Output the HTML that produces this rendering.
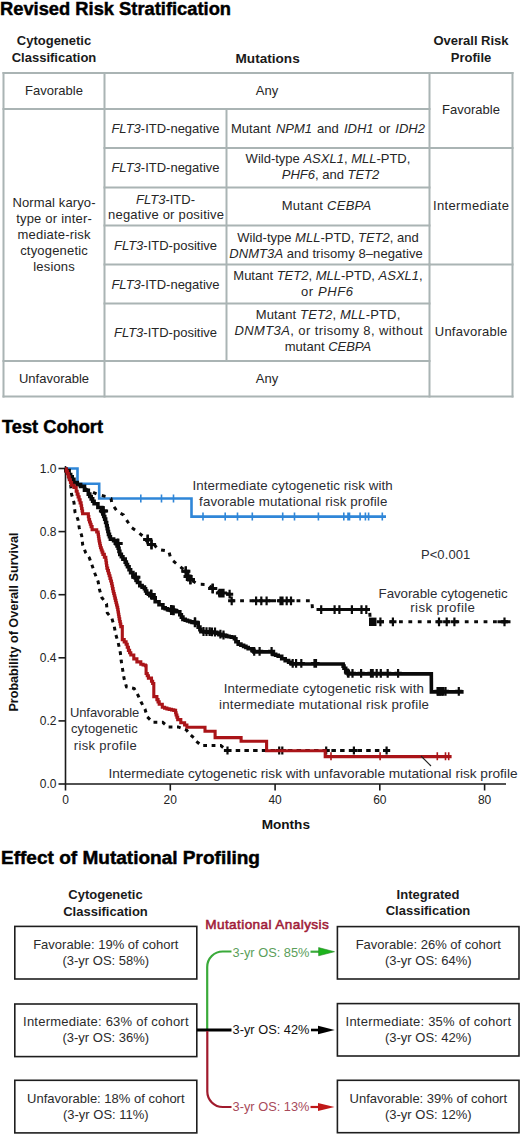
<!DOCTYPE html>
<html><head><meta charset="utf-8"><title>Revised Risk Stratification</title>
<style>
html,body{margin:0;padding:0;background:#fff;}
body{width:520px;height:1134px;overflow:hidden;position:relative;font-family:"Liberation Sans", sans-serif;}
svg{position:absolute;left:0;top:0;display:block;}
text{font-family:"Liberation Sans", sans-serif;}
</style></head>
<body>
<svg width="520" height="1134" viewBox="0 0 520 1134">
<text x="0" y="15" font-size="18" font-weight="bold" fill="#000" stroke="#000" stroke-width="0.45" textLength="231" lengthAdjust="spacingAndGlyphs">Revised Risk Stratification</text>
<text x="54" y="45.3" font-size="13" text-anchor="middle" font-weight="bold" fill="#1a1a1a" >Cytogenetic</text>
<text x="54" y="62.3" font-size="13" text-anchor="middle" font-weight="bold" fill="#1a1a1a" >Classification</text>
<text x="267.6" y="62.8" font-size="13.6" text-anchor="middle" font-weight="bold" fill="#1a1a1a" >Mutations</text>
<text x="471" y="44.9" font-size="13" text-anchor="middle" font-weight="bold" fill="#1a1a1a" >Overall Risk</text>
<text x="471" y="62.2" font-size="13" text-anchor="middle" font-weight="bold" fill="#1a1a1a" >Profile</text>
<line x1="2.5" y1="73" x2="513.5" y2="73" stroke="#aab4b4" stroke-width="2"/>
<line x1="2.5" y1="396.5" x2="513.5" y2="396.5" stroke="#aab4b4" stroke-width="2"/>
<line x1="3.5" y1="72" x2="3.5" y2="397.5" stroke="#aab4b4" stroke-width="2"/>
<line x1="512.5" y1="72" x2="512.5" y2="397.5" stroke="#aab4b4" stroke-width="2"/>
<line x1="104.5" y1="72" x2="104.5" y2="397.5" stroke="#aab4b4" stroke-width="2"/>
<line x1="429.5" y1="72" x2="429.5" y2="397.5" stroke="#aab4b4" stroke-width="2"/>
<line x1="226.5" y1="108" x2="226.5" y2="362" stroke="#aab4b4" stroke-width="2"/>
<line x1="2.5" y1="109" x2="430.5" y2="109" stroke="#aab4b4" stroke-width="2"/>
<line x1="103.5" y1="148" x2="430.5" y2="148" stroke="#aab4b4" stroke-width="2"/>
<line x1="103.5" y1="187.5" x2="430.5" y2="187.5" stroke="#aab4b4" stroke-width="2"/>
<line x1="103.5" y1="225.5" x2="430.5" y2="225.5" stroke="#aab4b4" stroke-width="2"/>
<line x1="103.5" y1="264.5" x2="430.5" y2="264.5" stroke="#aab4b4" stroke-width="2"/>
<line x1="103.5" y1="303.5" x2="430.5" y2="303.5" stroke="#aab4b4" stroke-width="2"/>
<line x1="2.5" y1="361" x2="430.5" y2="361" stroke="#aab4b4" stroke-width="2"/>
<line x1="428.5" y1="148" x2="513.5" y2="148" stroke="#aab4b4" stroke-width="2"/>
<line x1="428.5" y1="264.5" x2="513.5" y2="264.5" stroke="#aab4b4" stroke-width="2"/>
<text x="54.0" y="94.5" font-size="13" text-anchor="middle" font-weight="normal" fill="#262626" >Favorable</text>
<text x="267.0" y="94.8" font-size="13" text-anchor="middle" font-weight="normal" fill="#262626" >Any</text>
<text x="471.0" y="114.0" font-size="13" text-anchor="middle" font-weight="normal" fill="#262626" >Favorable</text>
<text x="165.5" y="133" font-size="13" text-anchor="middle" font-weight="normal" fill="#262626" ><tspan font-style="italic">FLT3</tspan>-ITD-negative</text>
<text x="328.0" y="133" font-size="13" text-anchor="middle" font-weight="normal" fill="#262626" word-spacing="1.5">Mutant <tspan font-style="italic">NPM1</tspan> and <tspan font-style="italic">IDH1</tspan> or <tspan font-style="italic">IDH2</tspan></text>
<text x="165.5" y="172" font-size="13" text-anchor="middle" font-weight="normal" fill="#262626" ><tspan font-style="italic">FLT3</tspan>-ITD-negative</text>
<text x="328.0" y="163.2" font-size="13" text-anchor="middle" font-weight="normal" fill="#262626" >Wild-type <tspan font-style="italic">ASXL1</tspan>, <tspan font-style="italic">MLL</tspan>-PTD,</text>
<text x="330.5" y="179.2" font-size="13" text-anchor="middle" font-weight="normal" fill="#262626" ><tspan font-style="italic">PHF6</tspan>, and <tspan font-style="italic">TET2</tspan></text>
<text x="471.0" y="210.4" font-size="13" text-anchor="middle" font-weight="normal" fill="#262626" textLength="76" lengthAdjust="spacing">Intermediate</text>
<text x="165.5" y="203.6" font-size="13" text-anchor="middle" font-weight="normal" fill="#262626" ><tspan font-style="italic">FLT3</tspan>-ITD-</text>
<text x="166.0" y="218.8" font-size="13" text-anchor="middle" font-weight="normal" fill="#262626" textLength="116" lengthAdjust="spacing">negative or positive</text>
<text x="326.5" y="209.8" font-size="13" text-anchor="middle" font-weight="normal" fill="#262626" textLength="89.5" lengthAdjust="spacing">Mutant <tspan font-style="italic">CEBPA</tspan></text>
<text x="165.5" y="249.5" font-size="13" text-anchor="middle" font-weight="normal" fill="#262626" ><tspan font-style="italic">FLT3</tspan>-ITD-positive</text>
<text x="328.0" y="242.2" font-size="13" text-anchor="middle" font-weight="normal" fill="#262626" >Wild-type <tspan font-style="italic">MLL</tspan>-PTD, <tspan font-style="italic">TET2</tspan>, and</text>
<text x="326.0" y="258" font-size="13" text-anchor="middle" font-weight="normal" fill="#262626" textLength="193.5" lengthAdjust="spacing"><tspan font-style="italic">DNMT3A</tspan> and trisomy 8&#8211;negative</text>
<text x="165.5" y="288.5" font-size="13" text-anchor="middle" font-weight="normal" fill="#262626" ><tspan font-style="italic">FLT3</tspan>-ITD-negative</text>
<text x="328.0" y="280.2" font-size="13" text-anchor="middle" font-weight="normal" fill="#262626" >Mutant <tspan font-style="italic">TET2</tspan>, <tspan font-style="italic">MLL</tspan>-PTD, <tspan font-style="italic">ASXL1</tspan>,</text>
<text x="327.0" y="296.1" font-size="13" text-anchor="middle" font-weight="normal" fill="#262626" textLength="52" lengthAdjust="spacing">or <tspan font-style="italic">PHF6</tspan></text>
<text x="165.5" y="337" font-size="13" text-anchor="middle" font-weight="normal" fill="#262626" ><tspan font-style="italic">FLT3</tspan>-ITD-positive</text>
<text x="328.0" y="319.2" font-size="13" text-anchor="middle" font-weight="normal" fill="#262626" textLength="144.5" lengthAdjust="spacing">Mutant <tspan font-style="italic">TET2</tspan>, <tspan font-style="italic">MLL</tspan>-PTD,</text>
<text x="328.5" y="334.8" font-size="13" text-anchor="middle" font-weight="normal" fill="#262626" textLength="188" lengthAdjust="spacing"><tspan font-style="italic">DNMT3A</tspan>, or trisomy 8, without</text>
<text x="328.0" y="350.5" font-size="13" text-anchor="middle" font-weight="normal" fill="#262626" >mutant <tspan font-style="italic">CEBPA</tspan></text>
<text x="471.0" y="335.8" font-size="13" text-anchor="middle" font-weight="normal" fill="#262626" textLength="72.5" lengthAdjust="spacing">Unfavorable</text>
<text x="54.0" y="206.5" font-size="13" text-anchor="middle" font-weight="normal" fill="#262626" textLength="83" lengthAdjust="spacing">Normal karyo-</text>
<text x="54.0" y="222.6" font-size="13" text-anchor="middle" font-weight="normal" fill="#262626" textLength="75.7" lengthAdjust="spacing">type or inter-</text>
<text x="54.0" y="238.7" font-size="13" text-anchor="middle" font-weight="normal" fill="#262626" textLength="73" lengthAdjust="spacing">mediate-risk</text>
<text x="54.0" y="254.8" font-size="13" text-anchor="middle" font-weight="normal" fill="#262626" textLength="67.7" lengthAdjust="spacing">ctyogenetic</text>
<text x="54.0" y="270.9" font-size="13" text-anchor="middle" font-weight="normal" fill="#262626" textLength="41.4" lengthAdjust="spacing">lesions</text>
<text x="54.0" y="383.4" font-size="13" text-anchor="middle" font-weight="normal" fill="#262626" >Unfavorable</text>
<text x="267.0" y="383" font-size="13" text-anchor="middle" font-weight="normal" fill="#262626" >Any</text>
<text x="2" y="433.3" font-size="18" font-weight="bold" fill="#000" stroke="#000" stroke-width="0.45" textLength="101" lengthAdjust="spacingAndGlyphs">Test Cohort</text>
<path d="M65.5 466 V790.5 M65.5 784 H506" stroke="#1a1a1a" stroke-width="1.6" fill="none"/>
<line x1="58.5" y1="784.0" x2="65.5" y2="784.0" stroke="#1a1a1a" stroke-width="1.6"/>
<text x="56.5" y="788.3" font-size="12" text-anchor="end" font-weight="normal" fill="#222" >0.0</text>
<line x1="58.5" y1="720.9" x2="65.5" y2="720.9" stroke="#1a1a1a" stroke-width="1.6"/>
<text x="56.5" y="725.1999999999999" font-size="12" text-anchor="end" font-weight="normal" fill="#222" >0.2</text>
<line x1="58.5" y1="657.8" x2="65.5" y2="657.8" stroke="#1a1a1a" stroke-width="1.6"/>
<text x="56.5" y="662.0999999999999" font-size="12" text-anchor="end" font-weight="normal" fill="#222" >0.4</text>
<line x1="58.5" y1="594.7" x2="65.5" y2="594.7" stroke="#1a1a1a" stroke-width="1.6"/>
<text x="56.5" y="598.9999999999999" font-size="12" text-anchor="end" font-weight="normal" fill="#222" >0.6</text>
<line x1="58.5" y1="531.6" x2="65.5" y2="531.6" stroke="#1a1a1a" stroke-width="1.6"/>
<text x="56.5" y="535.9" font-size="12" text-anchor="end" font-weight="normal" fill="#222" >0.8</text>
<line x1="58.5" y1="468.5" x2="65.5" y2="468.5" stroke="#1a1a1a" stroke-width="1.6"/>
<text x="56.5" y="472.8" font-size="12" text-anchor="end" font-weight="normal" fill="#222" >1.0</text>
<line x1="170.3" y1="784" x2="170.3" y2="790.5" stroke="#1a1a1a" stroke-width="1.6"/>
<line x1="275.1" y1="784" x2="275.1" y2="790.5" stroke="#1a1a1a" stroke-width="1.6"/>
<line x1="379.8" y1="784" x2="379.8" y2="790.5" stroke="#1a1a1a" stroke-width="1.6"/>
<line x1="484.6" y1="784" x2="484.6" y2="790.5" stroke="#1a1a1a" stroke-width="1.6"/>
<text x="65.5" y="804" font-size="12" text-anchor="middle" font-weight="normal" fill="#222" >0</text>
<text x="170.28" y="804" font-size="12" text-anchor="middle" font-weight="normal" fill="#222" >20</text>
<text x="275.06" y="804" font-size="12" text-anchor="middle" font-weight="normal" fill="#222" >40</text>
<text x="379.84" y="804" font-size="12" text-anchor="middle" font-weight="normal" fill="#222" >60</text>
<text x="484.62" y="804" font-size="12" text-anchor="middle" font-weight="normal" fill="#222" >80</text>
<text x="285.8" y="829.2" font-size="13.6" text-anchor="middle" font-weight="bold" fill="#111" >Months</text>
<text transform="translate(17.6 622) rotate(-90)" x="0" y="0" font-size="12.6" font-weight="bold" fill="#111" text-anchor="middle">Probability of Overall Survival</text>
<path d="M65.5 468.5 H77.5 V483.8 H99.2 V498.5 H191.5 V516.6 H386" stroke="#2f86d8" stroke-width="2.6" fill="none"/>
<path d="M140.8 494.5 V502.5 M161.5 494.5 V502.5 M173.5 494.5 V502.5 " stroke="#2f86d8" stroke-width="1.6" fill="none"/>
<path d="M203 512.6 V520.6 M225.2 512.6 V520.6 M237.5 512.6 V520.6 M252.3 512.6 V520.6 M282.7 512.6 V520.6 M294.5 512.6 V520.6 M318.4 512.6 V520.6 M343.8 512.6 V520.6 M348 512.6 V520.6 M349.5 512.6 V520.6 M360.1 512.6 V520.6 M365.4 512.6 V520.6 M368.6 512.6 V520.6 M382.3 512.6 V520.6 " stroke="#2f86d8" stroke-width="1.6" fill="none"/>
<path d="M64.90 469.10 H65.90 V470.60 H69.10 V474.60 H70.65 V476.90 H72.20 V479.20 H73.90 V482.60 H77.25 V484.50 H80.60 V486.40 H84.50 V490.20 H88.30 V494.10 H89.75 V496.50 H91.20 V498.90 H92.65 V501.30 H94.10 V503.70 H97.90 V507.50 H101.80 V511.40 H102.77 V513.97 H103.73 V516.53 H104.70 V519.10 H105.65 V522.45 H106.60 V525.80 H107.23 V528.67 H107.87 V531.53 H108.50 V534.40 H109.45 V536.75 H110.40 V539.10 H113.60 V540.60 H115.90 V543.70 H117.05 V546.00 H118.20 V548.30 H119.00 V551.35 H119.80 V554.40 H121.35 V556.75 H122.90 V559.10 H125.20 V562.10 H126.35 V564.45 H127.50 V566.80 H129.05 V569.70 H130.60 V572.60 H132.90 V575.25 H135.20 V577.90 H136.35 V580.20 H137.50 V582.50 H139.80 V585.60 H142.10 V587.15 H144.40 V588.70 H145.55 V591.00 H146.70 V593.30 H149.80 V595.60 H152.90 V597.90 H155.20 V601.80 H159.00 V604.80 H162.90 V607.90 H165.20 V608.75 H167.50 V609.60 H170.57 V610.33 H173.63 V611.07 H176.70 V611.80 H179.80 V614.80 H181.35 V617.10 H182.90 V619.40 H185.20 V620.20 H187.50 V621.00 H189.80 V621.75 H192.10 V622.50 H194.25 V622.80 H196.40 V623.10 H198.20 V627.10 H199.90 V629.60 H200.90 V631.60 H203.90 V631.90 H206.90 V632.20 H209.90 V632.50 H212.90 V632.80 H215.90 V633.10 H219.00 V634.60 H222.90 V635.60 H226.70 V636.40 H229.00 V636.75 H231.30 V637.10 H234.40 V638.70 H235.90 V641.80 H238.20 V644.10 H240.90 V645.25 H243.60 V646.40 H245.90 V647.55 H248.20 V648.70 H252.10 V650.20 H253.90 V651.90 L270.50 651.90 H273.10 V654.40 H275.65 V655.30 H278.20 V656.20 H281.70 V658.80 H285.20 V660.60 H288.60 V662.20 H291.20 V664.00 L342.30 664.00 H343.15 V666.15 H344.00 V668.30 H345.70 V671.70 H348.20 V673.90 L431.30 673.90 H431.32 V676.90 H431.33 V679.90 H431.35 V682.90 H431.37 V685.90 H431.38 V688.90 H431.40 V691.90 L463.60 691.90" stroke="#0a0a0a" stroke-width="3.6" fill="none" stroke-linejoin="miter"/>
<path d="M103.5 506 V516 M118.1 538.5 V548.5 M135.8 572.3 V582.3 M151.2 589.5 V599.5 M171.2 605 V615 M173.5 605.3 V615.3 M195 617.3 V627.3 " stroke="#0a0a0a" stroke-width="2.4" fill="none"/>
<path d="M98.9 511 H108.1 M113.5 543.5 H122.69999999999999 M131.20000000000002 577.3 H140.4 M146.6 594.5 H155.79999999999998 M166.6 610 H175.79999999999998 M168.9 610.3 H178.1 M190.4 622.3 H199.6 " stroke="#0a0a0a" stroke-width="3" fill="none"/>
<path d="M103.5 506.6 V515.4 M118.1 539.1 V547.9 M135.8 572.9 V581.6999999999999 M151.2 590.1 V598.9 M171.2 605.6 V614.4 M173.5 605.9 V614.6999999999999 M195 617.9 V626.6999999999999 M203.5 627.1 V635.9 M206.5 627.2 V636.0 M209.6 627.3000000000001 V636.1 M211.9 627.4 V636.1999999999999 M215 627.6 V636.4 M220.4 629.8000000000001 V638.6 M223.5 630.6 V639.4 M254.2 646.9 V655.6999999999999 M259.6 646.9 V655.6999999999999 M271.6 646.9 V655.6999999999999 M292.7 659.0 V667.8 M296.1 659.0 V667.8 M301.3 659.0 V667.8 M314.5 659.0 V667.8 M316 659.0 V667.8 M348 668.6 V677.4 M348.5 668.9 V677.6999999999999 M352.5 668.9 V677.6999999999999 M361.1 668.9 V677.6999999999999 M371 668.9 V677.6999999999999 M372.7 668.9 V677.6999999999999 M376.7 668.9 V677.6999999999999 M380.8 668.9 V677.6999999999999 M387.7 668.9 V677.6999999999999 M398.1 668.9 V677.6999999999999 M438 686.9 V695.6999999999999 M440 686.9 V695.6999999999999 M442.5 686.9 V695.6999999999999 M445.5 686.9 V695.6999999999999 M458.8 686.9 V695.6999999999999 " stroke="#0a0a0a" stroke-width="2.2" fill="none"/>
<path d="M99.9 511 H107.1 M114.5 543.5 H121.69999999999999 M132.20000000000002 577.3 H139.4 M147.6 594.5 H154.79999999999998 M167.6 610 H174.79999999999998 M169.9 610.3 H177.1 M191.4 622.3 H198.6 M199.9 631.5 H207.1 M202.9 631.6 H210.1 M206.0 631.7 H213.2 M208.3 631.8 H215.5 M211.4 632 H218.6 M216.8 634.2 H224.0 M219.9 635 H227.1 M250.6 651.3 H257.8 M256.0 651.3 H263.20000000000005 M268.0 651.3 H275.20000000000005 M289.09999999999997 663.4 H296.3 M292.5 663.4 H299.70000000000005 M297.7 663.4 H304.90000000000003 M310.9 663.4 H318.1 M312.4 663.4 H319.6 M344.4 673 H351.6 M344.9 673.3 H352.1 M348.9 673.3 H356.1 M357.5 673.3 H364.70000000000005 M367.4 673.3 H374.6 M369.09999999999997 673.3 H376.3 M373.09999999999997 673.3 H380.3 M377.2 673.3 H384.40000000000003 M384.09999999999997 673.3 H391.3 M394.5 673.3 H401.70000000000005 M434.4 691.3 H441.6 M436.4 691.3 H443.6 M438.9 691.3 H446.1 M441.9 691.3 H449.1 M455.2 691.3 H462.40000000000003 " stroke="#0a0a0a" stroke-width="3" fill="none"/>
<rect x="436.5" y="687" width="8" height="8.6" fill="#0a0a0a"/>
<path d="M65.5 468.5 L68.5 474 L73 480 L75.4 483 L81.2 486 L86.9 489.6 L99 495 L106.2 496.5 L111 498.5 L111.9 503.3 L114.8 508 L117.7 512 L123.5 514.8 L126.3 519.6 L131.2 527.3 L136.9 531.2 L142.7 536 L146.5 540.8 L149.4 542.7 L154.2 544.6 L158 549.4 L168.8 551.2 L170.8 558.8 L176.5 563.7 L185.8 571.2 L188.1 576.5 L190.4 579.6 L198.1 584.2 L208.3 584.5 L212.7 588.5 L221.2 593.1 L229.6 594.2 L231.7 600.8 L311.9 600.8 L312.5 609.6 L369.6 609.6 L370.3 621.8 L510.5 621.8" stroke="#0a0a0a" stroke-width="3" fill="none" stroke-dasharray="3.8 5.6"/>
<path d="M147.7 534.6 V544.6 M151.5 539.4 V549.4 M185.8 566.2 V576.2 M188.1 571.5 V581.5 M190.4 574.6 V584.6 M212.7 583.5 V593.5 " stroke="#0a0a0a" stroke-width="2.4" fill="none"/>
<path d="M143.1 539.6 H152.29999999999998 M146.9 544.4 H156.1 M181.20000000000002 571.2 H190.4 M183.5 576.5 H192.7 M185.8 579.6 H195.0 M208.1 588.5 H217.29999999999998 " stroke="#0a0a0a" stroke-width="3" fill="none"/>
<path d="M147.7 535.2 V544.0 M151.5 540.0 V548.8 M185.8 566.8000000000001 V575.6 M188.1 572.1 V580.9 M190.4 575.2 V584.0 M212.7 584.1 V592.9 M219.5 588.7 V597.5 M221.5 588.7 V597.5 M223.5 588.7 V597.5 M229.6 589.8000000000001 V598.6 M231.7 596.4 V605.1999999999999 M256.1 596.4 V605.1999999999999 M261.3 596.4 V605.1999999999999 M266.6 596.4 V605.1999999999999 M280.5 596.4 V605.1999999999999 M282.5 596.4 V605.1999999999999 M286.7 596.4 V605.1999999999999 M291 596.4 V605.1999999999999 M321.2 605.2 V614.0 M334.6 605.2 V614.0 M339.4 605.2 V614.0 M351.9 605.2 V614.0 M361.5 605.2 V614.0 M366.3 605.2 V614.0 M380.4 617.4 V626.1999999999999 M392.9 617.4 V626.1999999999999 M439 617.4 V626.1999999999999 M446.7 617.4 V626.1999999999999 M454.4 617.4 V626.1999999999999 M504.5 617.4 V626.1999999999999 " stroke="#0a0a0a" stroke-width="2.2" fill="none"/>
<path d="M144.1 539.6 H151.29999999999998 M147.9 544.4 H155.1 M182.20000000000002 571.2 H189.4 M184.5 576.5 H191.7 M186.8 579.6 H194.0 M209.1 588.5 H216.29999999999998 M215.9 593.1 H223.1 M217.9 593.1 H225.1 M219.9 593.1 H227.1 M226.0 594.2 H233.2 M228.1 600.8 H235.29999999999998 M252.50000000000003 600.8 H259.70000000000005 M257.7 600.8 H264.90000000000003 M263.0 600.8 H270.20000000000005 M276.9 600.8 H284.1 M278.9 600.8 H286.1 M283.09999999999997 600.8 H290.3 M287.4 600.8 H294.6 M317.59999999999997 609.6 H324.8 M331.0 609.6 H338.20000000000005 M335.79999999999995 609.6 H343.0 M348.29999999999995 609.6 H355.5 M357.9 609.6 H365.1 M362.7 609.6 H369.90000000000003 M376.79999999999995 621.8 H384.0 M389.29999999999995 621.8 H396.5 M435.4 621.8 H442.6 M443.09999999999997 621.8 H450.3 M450.79999999999995 621.8 H458.0 M500.9 621.8 H508.1 " stroke="#0a0a0a" stroke-width="3" fill="none"/>
<rect x="369" y="617.6" width="7.5" height="8.4" fill="#0a0a0a"/>
<rect x="218" y="590" width="6" height="6.5" fill="#0a0a0a"/>
<path d="M497.5 621.8 H510.5 M272 600.8 H276 M318 609.6 H370" stroke="#0a0a0a" stroke-width="3" fill="none"/>
<path d="M65.5 468.5 L68.5 476 L70.7 484.8 L71.6 494.4 L74 502.6 L75 512.2 L77.9 519.4 L79.3 528.1 L81.7 535.8 L82.7 544.9 L85.6 552.6 L89.4 557.9 L93 568 L95 573.8 L98.1 581.5 L99.6 590 L101.9 597.7 L106.5 603.8 L107.3 613 L111.9 618.5 L114.2 626.2 L115.8 634.6 L118.1 642.3 L120.4 653.1 L121.2 660.8 L122.7 670 L124.2 679.2 L126.5 686.9 L134.2 688.5 L138.1 695.4 L141.2 702.3 L145 709.2 L147.3 716.9 L152.7 722.3 L162.7 722.3 L168.1 726.9 L178.1 726.9 L186.5 730 L189.5 734 L194.6 738.5 L196 741 L201.5 745.6 L220.8 745.6 L226.9 750.5" stroke="#0a0a0a" stroke-width="3" fill="none" stroke-dasharray="3.8 4.6"/>
<path d="M227 750.5 H390" stroke="#0a0a0a" stroke-width="3" fill="none" stroke-dasharray="4.5 4.2"/>
<path d="M227.5 746.5 V754.5 M279.2 746.5 V754.5 M282.3 746.5 V754.5 M326.2 746.5 V754.5 M353.9 746.5 V754.5 M386.6 746.5 V754.5 " stroke="#0a0a0a" stroke-width="2.2" fill="none"/>
<path d="M223.9 750.5 H231.1 M275.59999999999997 750.5 H282.8 M278.7 750.5 H285.90000000000003 M322.59999999999997 750.5 H329.8 M350.29999999999995 750.5 H357.5 M383.0 750.5 H390.20000000000005 " stroke="#0a0a0a" stroke-width="3" fill="none"/>
<path d="M65.10 468.90 H66.25 V471.25 H67.40 V473.60 H68.35 V476.70 H69.30 V479.80 H70.45 V482.50 H71.60 V485.20 H73.90 V487.40 H76.20 V491.30 H77.15 V494.10 H78.10 V496.90 H79.10 V499.90 H80.10 V502.90 H81.10 V505.80 H81.60 V508.43 H82.10 V511.07 H82.60 V513.70 L87.90 513.70 H88.35 V516.65 H88.80 V519.60 H89.57 V521.93 H90.33 V524.27 H91.10 V526.60 H92.10 V529.70 L95.30 529.70 H96.70 V531.95 H98.10 V534.20 H98.43 V536.47 H98.77 V538.73 H99.10 V541.00 H99.57 V543.23 H100.03 V545.47 H100.50 V547.70 H101.30 V549.93 H102.10 V552.17 H102.90 V554.40 H104.35 V557.30 H105.80 V560.20 H106.17 V562.83 H106.53 V565.47 H106.90 V568.10 H107.67 V570.67 H108.43 V573.23 H109.20 V575.80 H109.97 V578.37 H110.73 V580.93 H111.50 V583.50 H112.03 V586.07 H112.57 V588.63 H113.10 V591.20 H113.67 V593.50 H114.25 V595.80 H114.82 V598.10 H115.40 V600.40 H115.97 V602.70 H116.55 V605.00 H117.12 V607.30 H117.70 V609.60 H118.07 V611.93 H118.45 V614.25 H118.82 V616.57 H119.20 V618.90 H119.73 V621.47 H120.27 V624.03 H120.80 V626.60 H122.30 V630.40 L122.30 639.60 H124.20 V641.90 H126.10 V644.20 H127.25 V647.30 H128.40 V650.40 H129.60 V652.70 H130.80 V655.00 H133.80 V658.90 H136.90 V661.90 H140.80 V664.20 H143.10 V665.00 H145.40 V665.80 L146.10 665.80 L146.10 673.50 H147.25 V675.80 H148.40 V678.10 H151.50 V681.20 H152.65 V683.50 H153.80 V685.80 L153.80 696.60 H156.90 V699.60 H158.05 V701.90 H159.20 V704.20 H162.30 V707.30 H164.60 V708.10 H166.90 V708.90 H169.20 V709.40 H171.50 V709.90 H173.80 V710.40 L175.10 710.40 H175.60 V712.70 H176.10 V715.00 H176.90 V717.30 H177.70 V719.60 H180.80 V722.70 H184.60 V725.00 H186.90 V727.30 L205.00 727.30 L205.00 731.30 L215.10 731.30 L215.10 737.60 L241.10 737.60 L241.10 741.20 L266.60 741.20 L266.60 750.70 L325.20 750.70 L325.20 756.60 L451.60 756.60" stroke="#aa1418" stroke-width="3.1" fill="none" stroke-linejoin="miter"/>
<path d="M331 752.2 V760.2 M380.1 752.2 V760.2 M437.3 752.2 V760.2 M445.5 752.2 V760.2 M448.7 752.2 V760.2 " stroke="#aa1418" stroke-width="1.6" fill="none"/>
<line x1="421" y1="756" x2="431" y2="766" stroke="#222" stroke-width="1.1"/>
<text x="292.6" y="489.9" font-size="13.3" text-anchor="middle" fill="#2c2d33" textLength="200.3" lengthAdjust="spacing">Intermediate cytogenetic risk with</text>
<text x="293.2" y="505.8" font-size="13.3" text-anchor="middle" fill="#2c2d33" textLength="188.3" lengthAdjust="spacing">favorable mutational risk profile</text>
<text x="445.6" y="558.5" font-size="13" text-anchor="middle" fill="#2c2d33" textLength="49.3" lengthAdjust="spacing">P&lt;0.001</text>
<text x="443.1" y="597.8" font-size="13.3" text-anchor="middle" fill="#2c2d33" textLength="129.0" lengthAdjust="spacing">Favorable cytogenetic</text>
<text x="442.6" y="612.3" font-size="13.3" text-anchor="middle" fill="#2c2d33" textLength="64.7" lengthAdjust="spacing">risk profile</text>
<text x="323.8" y="693.3" font-size="13.3" text-anchor="middle" fill="#2c2d33" textLength="200.2" lengthAdjust="spacing">Intermediate cytogenetic risk with</text>
<text x="324.0" y="708.9" font-size="13.3" text-anchor="middle" fill="#2c2d33" textLength="210.0" lengthAdjust="spacing">intermediate mutational risk profile</text>
<text x="104.6" y="717.3" font-size="13" text-anchor="middle" fill="#2c2d33" textLength="69.4" lengthAdjust="spacing">Unfavorable</text>
<text x="104.4" y="733.4" font-size="13" text-anchor="middle" fill="#2c2d33" textLength="66.8" lengthAdjust="spacing">cytogenetic</text>
<text x="105.2" y="749.8" font-size="13" text-anchor="middle" fill="#2c2d33" textLength="62.9" lengthAdjust="spacing">risk profile</text>
<text x="108.5" y="778" font-size="13.5" fill="#2c2d33" textLength="409" lengthAdjust="spacingAndGlyphs">Intermediate cytogenetic risk with unfavorable mutational risk profile</text>
<text x="1" y="864" font-size="18" font-weight="bold" fill="#000" stroke="#000" stroke-width="0.45" textLength="259" lengthAdjust="spacingAndGlyphs">Effect of Mutational Profiling</text>
<text x="105.5" y="899" font-size="13" text-anchor="middle" font-weight="bold" fill="#1a1a1a" >Cytogenetic</text>
<text x="105.5" y="916" font-size="13" text-anchor="middle" font-weight="bold" fill="#1a1a1a" >Classification</text>
<text x="428" y="898.8" font-size="13" text-anchor="middle" font-weight="bold" fill="#1a1a1a" >Integrated</text>
<text x="428" y="915" font-size="13" text-anchor="middle" font-weight="bold" fill="#1a1a1a" >Classification</text>
<text x="267" y="928.6" font-size="13.6" text-anchor="middle" font-weight="normal" fill="#a01c38" stroke="#a01c38" stroke-width="0.55" textLength="123.5" lengthAdjust="spacing">Mutational Analysis</text>
<rect x="14.8" y="926.4" width="182" height="52.6" fill="none" stroke="#1e1e1e" stroke-width="1.6"/>
<text x="105.8" y="948.6" font-size="13" text-anchor="middle" font-weight="normal" fill="#2b2b2b" >Favorable: 19% of cohort</text>
<text x="105.8" y="964.8" font-size="13" text-anchor="middle" font-weight="normal" fill="#2b2b2b" >(3-yr OS: 58%)</text>
<rect x="14.8" y="1004" width="182" height="52.6" fill="none" stroke="#1e1e1e" stroke-width="1.6"/>
<text x="105.8" y="1026.2" font-size="13" text-anchor="middle" font-weight="normal" fill="#2b2b2b" textLength="165.5" lengthAdjust="spacing">Intermediate: 63% of cohort</text>
<text x="105.8" y="1042.4" font-size="13" text-anchor="middle" font-weight="normal" fill="#2b2b2b" >(3-yr OS: 36%)</text>
<rect x="14.8" y="1080.3" width="182" height="52.6" fill="none" stroke="#1e1e1e" stroke-width="1.6"/>
<text x="105.8" y="1102.5" font-size="13" text-anchor="middle" font-weight="normal" fill="#2b2b2b" >Unfavorable: 18% of cohort</text>
<text x="105.8" y="1118.7" font-size="13" text-anchor="middle" font-weight="normal" fill="#2b2b2b" >(3-yr OS: 11%)</text>
<rect x="337.4" y="926.6" width="181.6" height="52.4" fill="none" stroke="#1e1e1e" stroke-width="1.6"/>
<text x="428.3" y="948.8000000000001" font-size="13" text-anchor="middle" font-weight="normal" fill="#2b2b2b" >Favorable: 26% of cohort</text>
<text x="428.3" y="964.8000000000001" font-size="13" text-anchor="middle" font-weight="normal" fill="#2b2b2b" >(3-yr OS: 64%)</text>
<rect x="337.4" y="1003.6" width="181.6" height="52.4" fill="none" stroke="#1e1e1e" stroke-width="1.6"/>
<text x="428.3" y="1025.8" font-size="13" text-anchor="middle" font-weight="normal" fill="#2b2b2b" textLength="165.5" lengthAdjust="spacing">Intermediate: 35% of cohort</text>
<text x="428.3" y="1041.8" font-size="13" text-anchor="middle" font-weight="normal" fill="#2b2b2b" >(3-yr OS: 42%)</text>
<rect x="337.4" y="1080.3" width="181.6" height="52.4" fill="none" stroke="#1e1e1e" stroke-width="1.6"/>
<text x="428.3" y="1102.5" font-size="13" text-anchor="middle" font-weight="normal" fill="#2b2b2b" >Unfavorable: 39% of cohort</text>
<text x="428.3" y="1118.5" font-size="13" text-anchor="middle" font-weight="normal" fill="#2b2b2b" >(3-yr OS: 12%)</text>
<path d="M207.2 1029 V967 A15.5 15.5 0 0 1 222.7 951.5 H231.5" stroke="#3aaa3a" stroke-width="2.2" fill="none"/>
<path d="M310.5 951.7 H320" stroke="#3aaa3a" stroke-width="2.2" fill="none"/>
<path d="M318.6 947.6 L334.5 951.7 L318.6 955.8 Z" fill="#1cb41c" stroke="#2a8a2a" stroke-width="0.6"/>
<text x="271" y="956.6" font-size="12.8" text-anchor="middle" font-weight="normal" fill="#5a9e5a" >3-yr OS: 85%</text>
<path d="M197 1030 H231.5" stroke="#000" stroke-width="3" fill="none"/>
<path d="M311 1030 H320" stroke="#000" stroke-width="2.6" fill="none"/>
<path d="M318 1025.8 L334.7 1030 L318 1034.3 Z" fill="#000"/>
<text x="271" y="1033.8" font-size="12.8" text-anchor="middle" font-weight="normal" fill="#111" >3-yr OS: 42%</text>
<path d="M207.3 1031 V1091.5 A15.5 15.5 0 0 0 222.8 1107 H231.5" stroke="#a01a2c" stroke-width="2.2" fill="none"/>
<path d="M310.5 1107 H320" stroke="#c01818" stroke-width="2.2" fill="none"/>
<path d="M318 1102.9 L334.5 1107 L318 1111.1 Z" fill="#c01818"/>
<text x="271" y="1111.2" font-size="12.8" text-anchor="middle" font-weight="normal" fill="#a84a5a" >3-yr OS: 13%</text>
</svg>
</body></html>
